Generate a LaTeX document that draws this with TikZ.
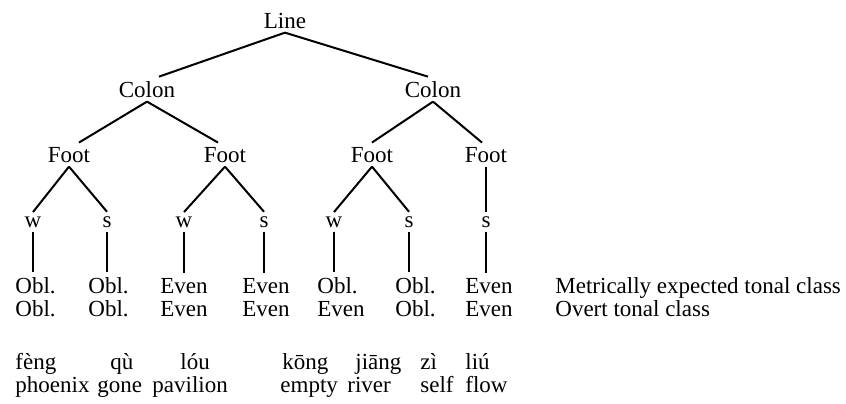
\documentclass[tikz,border=0pt]{standalone}
\usepackage{fontspec}
\setmainfont{Liberation Serif}
\usetikzlibrary{calc}

\begin{document}
\begin{tikzpicture}[x=0.5pt,y=-0.5pt]
            \tikzset{VertexStyle/.style={inner sep=2pt,anchor=base,font=\fontsize{11.5}{13}\selectfont},
                     WordStyle/.style={inner xsep=0pt,inner ysep=2.5pt,anchor=base west,font=\fontsize{11.5}{13}\selectfont},
                     EdgeStyle/.style={line width=1pt}};
            \useasboundingbox (0,0) rectangle (846,403);

            % tree
            \node[VertexStyle] (Line) at (285,28){Line};
            \node[VertexStyle] (ColonA) at (147,97){Colon};
            \node[VertexStyle] (ColonB) at (433,97){Colon};

            \node[VertexStyle] (FootA) at (69,162){Foot};
            \node[VertexStyle] (FootB) at (225,162){Foot};
            \node[VertexStyle] (FootC) at (372,162){Foot};
            \node[VertexStyle] (FootD) at (486,162){Foot};

            \node[VertexStyle] (w1) at (33,227){w};
            \node[VertexStyle] (s1) at (107,227){s};
            \node[VertexStyle] (w2) at (184,227){w};
            \node[VertexStyle] (s2) at (264,227){s};
            \node[VertexStyle] (w3) at (334,227){w};
            \node[VertexStyle] (s3) at (409,227){s};
            \node[VertexStyle] (s4) at (486,227){s};

            % metrically expected tonal class
            \node[WordStyle] (m1) at (15,293){Obl.};
            \node[WordStyle] (m2) at (88,293){Obl.};
            \node[WordStyle] (m3) at (160,293){Even};
            \node[WordStyle] (m4) at (242,293){Even};
            \node[WordStyle] (m5) at (317,293){Obl.};
            \node[WordStyle] (m6) at (395,293){Obl.};
            \node[WordStyle] (m7) at (465,293){Even};
            \node[WordStyle] (mLabel) at (555,293){Metrically expected tonal class};

            % overt tonal class
            \node[WordStyle] (o1) at (15,316){Obl.};
            \node[WordStyle] (o2) at (88,316){Obl.};
            \node[WordStyle] (o3) at (160,316){Even};
            \node[WordStyle] (o4) at (242,316){Even};
            \node[WordStyle] (o5) at (317,316){Even};
            \node[WordStyle] (o6) at (395,316){Obl.};
            \node[WordStyle] (o7) at (465,316){Even};
            \node[WordStyle] (oLabel) at (555,316){Overt tonal class};

            % pinyin and gloss
            \node[WordStyle] (p1) at (15,369){fèng};
            \node[WordStyle] (p2) at (110,369){qù};
            \node[WordStyle] (p3) at (180,369){lóu};
            \node[WordStyle] (p4) at (282,369){kōng};
            \node[WordStyle] (p5) at (355,369){jiāng};
            \node[WordStyle] (p6) at (420,369){zì};
            \node[WordStyle] (p7) at (465,369){liú};

            \node[WordStyle] (g1) at (15,392){phoenix};
            \node[WordStyle] (g2) at (97,392){gone};
            \node[WordStyle] (g3) at (152,392){pavilion};
            \node[WordStyle] (g4) at (280,392){empty};
            \node[WordStyle] (g5) at (347,392){river};
            \node[WordStyle] (g6) at (420,392){self};
            \node[WordStyle] (g7) at (465,392){flow};

            \draw[EdgeStyle] (Line.south) -- ($(ColonA.north)+(12,0)$);
            \draw[EdgeStyle] (Line.south) -- ($(ColonB.north)+(-5,0)$);

            \draw[EdgeStyle] (ColonA.south) -- ($(FootA.north)+(10,0)$);
            \draw[EdgeStyle] (ColonA.south) -- ($(FootB.north)+(-7,0)$);
            \draw[EdgeStyle] (ColonB.south) -- (FootC.north);
            \draw[EdgeStyle] (ColonB.south) -- ($(FootD.north)+(-4,0)$);

            \draw[EdgeStyle] (FootA.south) -- (w1.north);
            \draw[EdgeStyle] (FootA.south) -- (s1.north);
            \draw[EdgeStyle] (FootB.south) -- (w2.north);
            \draw[EdgeStyle] (FootB.south) -- (s2.north);
            \draw[EdgeStyle] (FootC.south) -- (w3.north);
            \draw[EdgeStyle] (FootC.south) -- (s3.north);
            \draw[EdgeStyle] (FootD.south) -- (s4.north);

            \draw[EdgeStyle] (w1.south) -- (w1.south |- m1.north);
            \draw[EdgeStyle] (s1.south) -- (s1.south |- m2.north);
            \draw[EdgeStyle] (w2.south) -- (w2.south |- m3.north);
            \draw[EdgeStyle] (s2.south) -- (s2.south |- m4.north);
            \draw[EdgeStyle] (w3.south) -- (w3.south |- m5.north);
            \draw[EdgeStyle] (s3.south) -- (s3.south |- m6.north);
            \draw[EdgeStyle] (s4.south) -- (s4.south |- m7.north);
          \end{tikzpicture}
\end{document}
